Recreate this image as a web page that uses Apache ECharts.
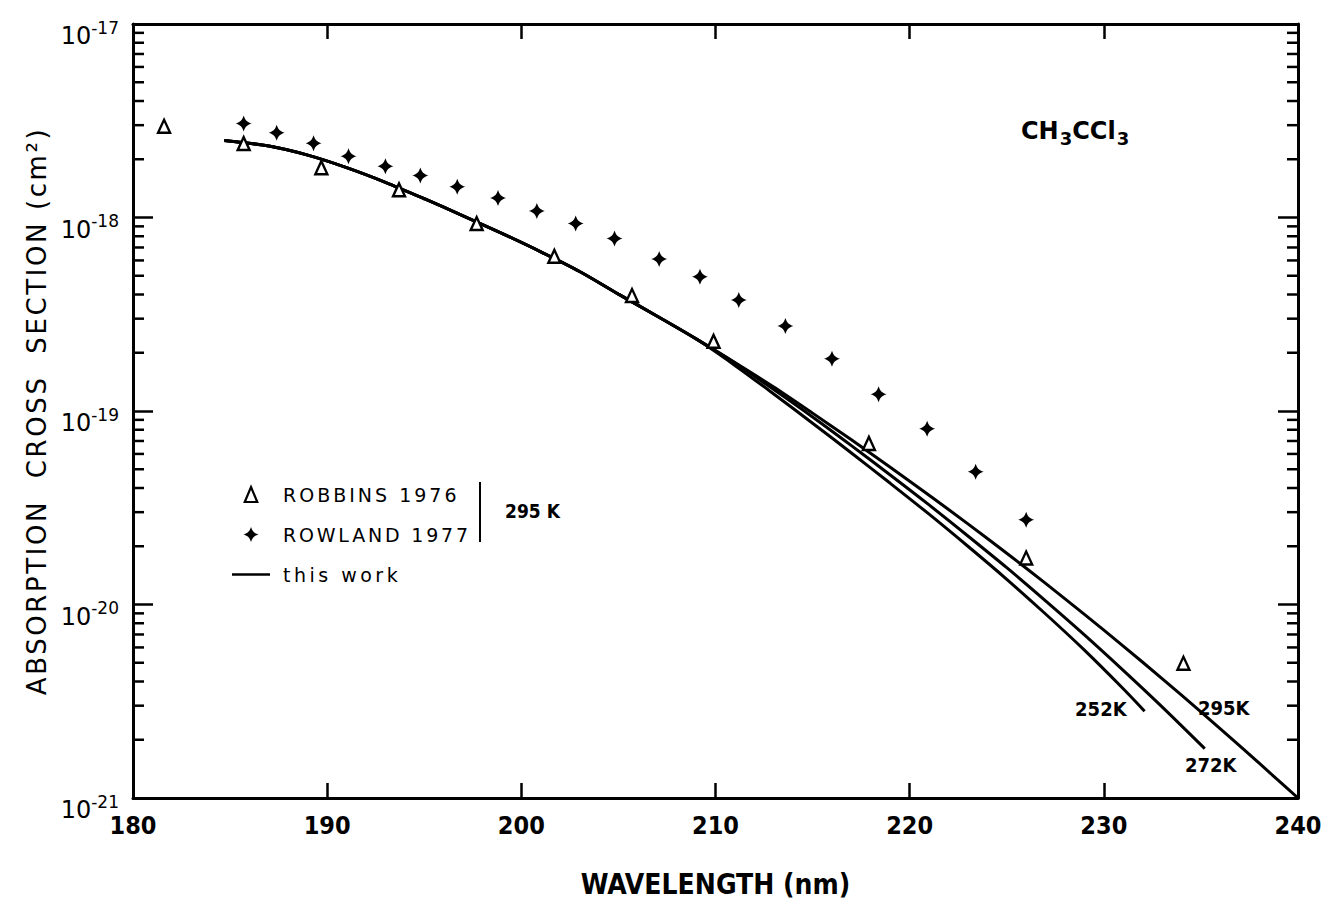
<!DOCTYPE html>
<html><head><meta charset="utf-8">
<script src="https://cdn.jsdelivr.net/npm/echarts@6/dist/echarts.min.js"></script>
<style>html,body{margin:0;padding:0;background:#fff}#c{width:1333px;height:903px}</style>
</head><body><div id="c"></div><script>
// ---- data (cross sections in cm^2) ----
const robbinsWl = [181.6, 185.7, 189.7, 193.7, 197.7, 201.7, 205.7, 209.9, 217.9, 226.0, 234.1];
const robbinsSigma = [2.96e-18, 2.41e-18, 1.81e-18, 1.39e-18, 9.3e-19, 6.3e-19, 3.95e-19, 2.29e-19, 6.8e-20, 1.74e-20, 4.97e-21];

const rowlandWl = [185.7, 187.4, 189.3, 191.1, 193.0, 194.8, 196.7, 198.8, 200.8, 202.8, 204.8, 207.1, 209.2, 211.2, 213.6, 216.0, 218.4, 220.9, 223.4, 226.0];
const rowlandSigma = [3.06e-18, 2.74e-18, 2.42e-18, 2.07e-18, 1.84e-18, 1.65e-18, 1.44e-18, 1.26e-18, 1.08e-18, 9.3e-19, 7.8e-19, 6.1e-19, 4.94e-19, 3.75e-19, 2.75e-19, 1.86e-19, 1.22e-19, 8.1e-20, 4.86e-20, 2.74e-20];

// "this work": common part (all temperatures coincide below ~210 nm)
const commonWl = [184.7, 187, 189, 191, 193, 195, 197, 199, 201, 203, 205, 207, 209];
const commonSigma = [2.50e-18, 2.34e-18, 2.10e-18, 1.81e-18, 1.52e-18, 1.25e-18, 1.02e-18, 8.28e-19, 6.65e-19, 5.26e-19, 4.02e-19, 3.09e-19, 2.36e-19];
const wl295 = [211, 213, 215, 217, 219, 221, 223, 225, 227, 229, 231, 233, 235, 237, 239, 240];
const sigma295 = [1.78e-19, 1.33e-19, 9.75e-20, 7.10e-20, 5.12e-20, 3.67e-20, 2.61e-20, 1.84e-20, 1.285e-20, 8.89e-21, 6.10e-21, 4.14e-21, 2.79e-21, 1.86e-21, 1.23e-21, 1.0e-21];
const wl272 = [211, 213, 215, 217, 219, 221, 223, 225, 227, 229, 231, 233, 235.2];
const sigma272 = [1.77e-19, 1.29e-19, 9.31e-20, 6.62e-20, 4.67e-20, 3.27e-20, 2.26e-20, 1.55e-20, 1.045e-20, 6.97e-21, 4.57e-21, 2.96e-21, 1.80e-21];
const wl252 = [211, 213, 215, 217, 219, 221, 223, 225, 227, 229, 231, 232.1];
const sigma252 = [1.72e-19, 1.225e-19, 8.65e-20, 6.07e-20, 4.23e-20, 2.93e-20, 2.00e-20, 1.35e-20, 8.93e-21, 5.81e-21, 3.67e-21, 2.81e-21];

const xTicks = [180, 190, 200, 210, 220, 230, 240];
const yDecades = [-21, -20, -19, -18, -17];
const minorFactors = [2, 3, 4, 5, 6, 7, 8, 9];
const curveLabels = ['252K', '272K', '295K'];
const legendNames = ['ROBBINS 1976', 'ROWLAND 1977', 'this work'];
const yTitle = 'ABSORPTION  CROSS  SECTION (cm²)';
const xTitle = 'WAVELENGTH (nm)';

// ---- build ----
// ECharts rounds very small numbers, so values are plotted in units of 1e-21 cm^2
const UNIT_EXP = -21;
const U = v => v / Math.pow(10, UNIT_EXP);
const zip = (a, b) => a.map((v, i) => [v, U(b[i])]);
const curve = (w, s) => zip(commonWl, commonSigma).concat(zip(w, s));
const FONT = '"DejaVu Sans", "Noto Sans", sans-serif';
const FONTC = '"DejaVu Sans Condensed", "Liberation Sans Narrow", "DejaVu Sans", sans-serif';
const STAR = 'path://M0,-10 C1.8,-4.2 4.2,-1.8 10,0 C4.2,1.8 1.8,4.2 0,10 C-1.8,4.2 -4.2,1.8 -10,0 C-4.2,-1.8 -1.8,-4.2 0,-10 Z';
const TRI = 'path://M5,0 L10,12 L0,12 Z';

const minorTicks = [];
yDecades.slice(0, -1).forEach(d => minorFactors.forEach(k => {
  const v = U(k * Math.pow(10, d));
  minorTicks.push([xTicks[0], v, 1]);
  minorTicks.push([xTicks[xTicks.length - 1], v, -1]);
}));
const yMin = U(Math.pow(10, yDecades[0]));
const yMax = U(Math.pow(10, yDecades[yDecades.length - 1]));

const axisLineStyle = { color: '#000', width: 3 };
const lineSeries = (name, data) => ({
  type: 'line', name, data, symbol: 'none', showSymbol: false, smooth: 0.3, z: 3,
  lineStyle: { color: '#000', width: 3 }, itemStyle: { color: '#000' }, silent: true
});

const chart = echarts.init(document.getElementById('c'), null, { renderer: 'svg' });
chart.setOption({
  backgroundColor: '#fff',
  animation: false,
  grid: { left: 133, right: 35, top: 24, bottom: 102 },
  title: {
    text: '{a|CH}{s|3}{a|CCl}{s|3}', left: 1016, top: 110,
    textStyle: { rich: {
      a: { fontFamily: FONT, fontWeight: 'bold', fontSize: 24, color: '#000' },
      s: { fontFamily: FONT, fontWeight: 'bold', fontSize: 18, color: '#000', padding: [14, 0, 0, 1] }
    } }
  },
  legend: {
    orient: 'vertical', left: 227, top: 480, itemGap: 21, itemWidth: 38, itemHeight: 15,
    selectedMode: false,
    textStyle: { fontFamily: FONT, fontSize: 19, color: '#000', padding: [0, 0, 0, 8] },
    data: [
      { name: legendNames[0], icon: TRI, itemStyle: { color: '#fff', borderColor: '#000', borderWidth: 2.2 } },
      { name: legendNames[1], icon: STAR },
      { name: legendNames[2], icon: 'path://M0,0 L38,0 L38,2.5 L0,2.5 Z' }
    ]
  },
  graphic: [
    { type: 'line', shape: { x1: 480, y1: 482, x2: 480, y2: 542 }, style: { stroke: '#000', lineWidth: 2 } },
    { type: 'text', left: 505, top: 501, style: { text: '295 K', font: 'bold 19px ' + FONTC, fill: '#000' } }
  ],
  xAxis: [
    { type: 'value', min: xTicks[0], max: xTicks[xTicks.length - 1], interval: 10, position: 'bottom',
      axisLine: { lineStyle: axisLineStyle }, axisTick: { inside: true, length: 15, lineStyle: { color: '#000', width: 2.5 } },
      axisLabel: { color: '#000', fontFamily: FONTC, fontWeight: 'bold', fontSize: 25, margin: 15 },
      splitLine: { show: false },
      name: xTitle, nameLocation: 'middle', nameGap: 72,
      nameTextStyle: { color: '#000', fontFamily: FONTC, fontWeight: 'bold', fontSize: 28 } },
    { type: 'value', min: xTicks[0], max: xTicks[xTicks.length - 1], interval: 10, position: 'top',
      axisLine: { lineStyle: axisLineStyle }, axisTick: { inside: true, length: 15, lineStyle: { color: '#000', width: 2.5 } },
      axisLabel: { show: false }, splitLine: { show: false } }
  ],
  yAxis: [
    { type: 'log', logBase: 10, min: yMin, max: yMax, position: 'left',
      axisLine: { lineStyle: axisLineStyle }, axisTick: { inside: true, length: 20, lineStyle: { color: '#000', width: 2.5 } },
      splitLine: { show: false },
      axisLabel: {
        margin: 14, padding: [14, 0, 0, 0], showMinLabel: true, showMaxLabel: true,
        formatter: v => '{b|10}{s|' + (Math.round(Math.log10(v)) + UNIT_EXP) + '}',
        rich: {
          b: { fontFamily: FONT, fontSize: 24, lineHeight: 24, color: '#000', padding: [10, 0, 0, 0] },
          s: { fontFamily: FONT, fontSize: 17, lineHeight: 17, color: '#000', verticalAlign: 'top' }
        }
      },
      name: yTitle, nameLocation: 'middle', nameGap: 78, nameRotate: 90,
      nameTextStyle: { color: '#000', fontFamily: FONT, fontSize: 26 } },
    { type: 'log', logBase: 10, min: yMin, max: yMax, position: 'right',
      axisLine: { lineStyle: axisLineStyle }, axisTick: { inside: true, length: 20, lineStyle: { color: '#000', width: 2.5 } },
      axisLabel: { show: false }, splitLine: { show: false } }
  ],
  series: [
    { type: 'custom', name: 'minor ticks', data: minorTicks, silent: true, clip: false, z: 5,
      renderItem: (p, api) => {
        const pt = api.coord([api.value(0), api.value(1)]);
        const dir = api.value(2);
        return { type: 'line', shape: { x1: pt[0], y1: pt[1], x2: pt[0] + dir * 11, y2: pt[1] },
                 style: { stroke: '#000', lineWidth: 2.5 } };
      } },
    lineSeries('this work', curve(wl295, sigma295)),
    lineSeries('272 K', curve(wl272, sigma272)),
    lineSeries('252 K', curve(wl252, sigma252)),
    { type: 'scatter', name: legendNames[0], data: zip(robbinsWl, robbinsSigma), symbol: 'triangle', symbolSize: [12, 13], z: 6,
      itemStyle: { color: '#fff', borderColor: '#000', borderWidth: 2.4, opacity: 1 } },
    { type: 'scatter', name: legendNames[1], data: zip(rowlandWl, rowlandSigma), symbol: STAR, symbolSize: 16, z: 6,
      itemStyle: { color: '#000', opacity: 1 } },
    { type: 'scatter', name: 'curve labels', symbolSize: 0, silent: true, z: 7,
      itemStyle: { opacity: 1 },
      label: { show: true, color: '#000', fontFamily: FONTC, fontWeight: 'bold', fontSize: 20 },
      data: [
        { value: [wl252[wl252.length - 1], U(sigma252[sigma252.length - 1])], label: { formatter: curveLabels[0], position: 'left', distance: 18, offset: [0, -2] } },
        { value: [wl272[wl272.length - 1], U(sigma272[sigma272.length - 1])], label: { formatter: curveLabels[1], position: 'bottom', distance: 6, offset: [6, 0] } },
        { value: [wl295[12], U(sigma295[12])], label: { formatter: curveLabels[2], position: 'right', distance: 0, offset: [-3, -4] } }
      ] }
  ]
});

// wide letter spacing of the original lettering (SVG renderer text nodes)
const spacing = [[yTitle, '2.6px'], [legendNames[0], '3px'], [legendNames[1], '2.8px'], [legendNames[2], '3.5px']];
function applySpacing() {
  document.querySelectorAll('#c svg text').forEach(t => {
    const s = spacing.find(p => p[0] === t.textContent);
    if (s) t.style.letterSpacing = s[1];
  });
}
applySpacing();
chart.on('finished', applySpacing);
</script></body></html>
